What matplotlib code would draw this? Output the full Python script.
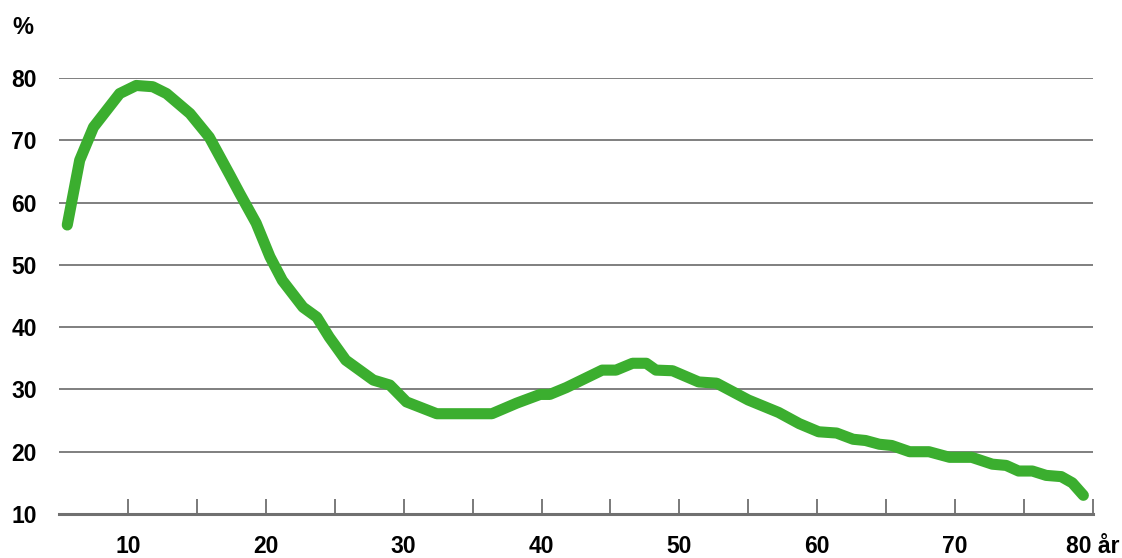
import matplotlib
matplotlib.use("Agg")
from matplotlib import pyplot as plt

# age (years) and share (%)
age = [5.6, 6.5, 7.5, 9.4, 10.6, 11.8, 12.8, 14.5, 15.9, 17.4, 18.1, 19.3,
       20.3, 21.2, 22.7, 23.7, 24.6, 25.8, 27.8, 29.0, 30.2, 32.4, 36.4,
       38.2, 39.9, 40.6, 41.8, 44.4, 45.4, 46.6, 47.6, 48.3, 49.5, 51.4,
       52.7, 55.0, 57.2, 58.7, 60.1, 61.4, 62.6, 63.5, 64.5, 65.4, 66.7,
       68.1, 69.6, 71.2, 72.7, 73.7, 74.6, 75.6, 76.6, 77.7, 78.5, 79.3]
share = [56.4, 66.8, 72.1, 77.5, 78.8, 78.6, 77.5, 74.3, 70.5, 64.4, 61.5, 56.7,
         51.3, 47.5, 43.2, 41.6, 38.4, 34.7, 31.5, 30.7, 28.0, 26.1, 26.1,
         27.8, 29.2, 29.2, 30.3, 33.1, 33.1, 34.2, 34.2, 33.1, 33.0, 31.2,
         31.0, 28.3, 26.3, 24.5, 23.2, 23.0, 22.0, 21.8, 21.2, 21.0, 20.0,
         20.0, 19.1, 19.1, 18.0, 17.8, 16.9, 16.9, 16.2, 16.0, 15.0, 13.0]

xticks = [10, 20, 30, 40, 50, 60, 70, 80]
xticklabels = ["10", "20", "30", "40", "50", "60", "70", "80 år"]
xminor = [15, 25, 35, 45, 55, 65, 75]
yticks = [10, 20, 30, 40, 50, 60, 70, 80]

plt.rcParams["font.family"] = ["Liberation Sans", "DejaVu Sans"]
plt.rcParams["font.weight"] = "bold"

fig = plt.figure(figsize=(11.22, 5.58), dpi=100)
ax = fig.add_axes([59 / 1122, 44 / 558, (1093 - 59) / 1122, (514 - 78) / 558])

for y in yticks[1:]:
    ax.axhline(y, color="#6a6a6a", linewidth=1.2, zorder=1)

ax.plot(age, share, color="#3bae2f", linewidth=8, solid_capstyle="round",
        solid_joinstyle="round", zorder=3, clip_on=False)

ax.set_xlim(5, 80)
ax.set_ylim(10, 80)

for s in ["top", "right", "left"]:
    ax.spines[s].set_visible(False)
ax.spines["bottom"].set_color("#707070")
ax.spines["bottom"].set_linewidth(2.2)

ax.set_xticks(xticks)
ax.set_xticklabels(xticklabels, fontsize=16.5, fontweight="bold")
ax.set_xticks(xminor, minor=True)
ax.tick_params(axis="x", which="both", direction="in", length=11, width=1.3,
               color="#707070", pad=15)
ax.set_yticks(yticks)
ax.set_yticklabels([str(v) for v in yticks], fontsize=16.5, fontweight="bold")
ax.tick_params(axis="y", length=0, pad=16)

fig.text(23 / 1122, 1 - 28 / 558, "%", fontsize=17, fontweight="bold",
         ha="center", va="center")

fig.savefig("out.png", dpi=100, facecolor="white")
